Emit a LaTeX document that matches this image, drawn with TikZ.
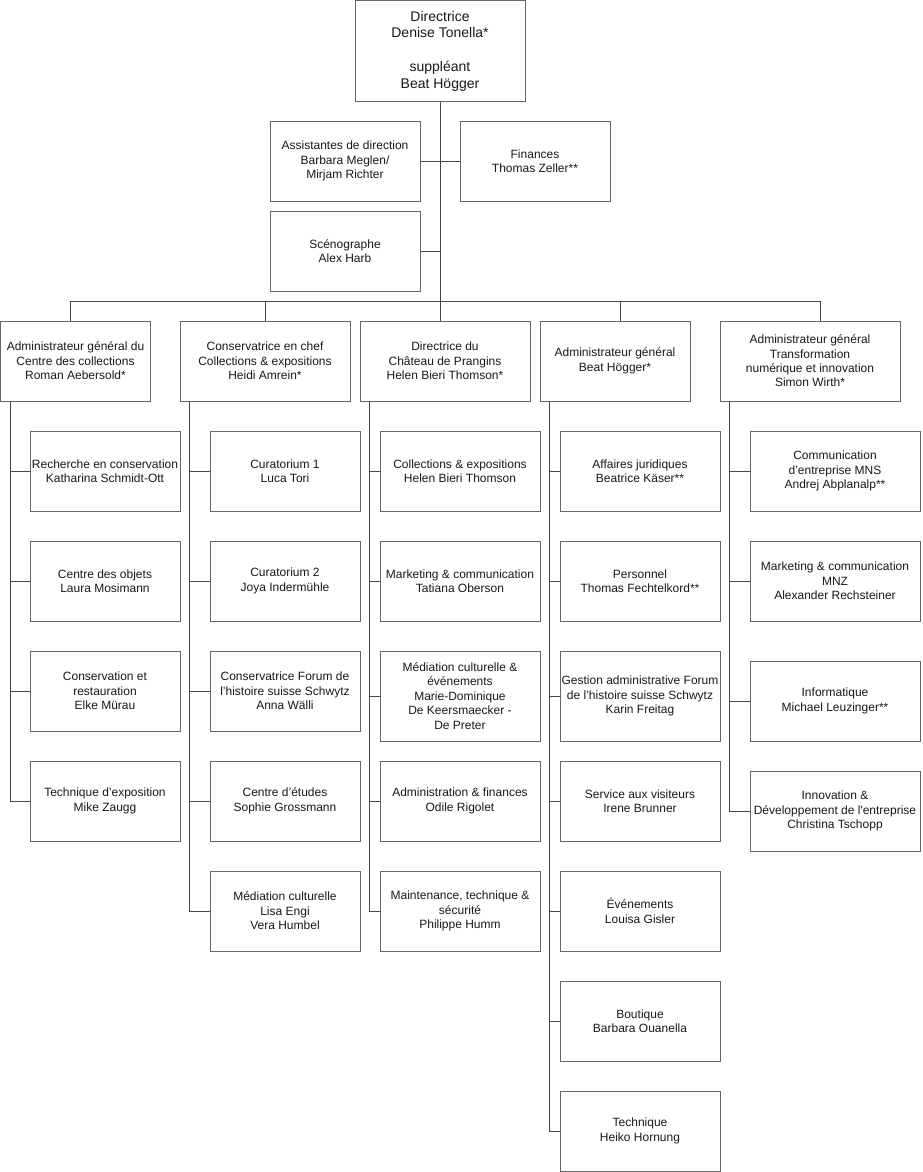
\documentclass[tikz,border=0pt]{standalone}
\usepackage{fontspec}
\setmainfont{Liberation Sans}
\begin{document}
\begin{tikzpicture}[x=1pt,y=-1pt,
  box/.style={draw=black!60, line width=1pt, fill=white, align=center, inner sep=0pt,
    font=\fontsize{12}{14.4}\selectfont, text=black!90},
  w150/.style={minimum width=150pt, minimum height=80pt},
  w160/.style={minimum width=160pt, minimum height=80pt},
  w170/.style={minimum width=170pt, minimum height=80pt},
  w180/.style={minimum width=180pt, minimum height=80pt},
  tall/.style={minimum height=90pt},
  conn/.style={draw=black!72, line width=1pt}]
\useasboundingbox (0,0) rectangle (922,1172);

% top
\node[box, minimum width=170pt, minimum height=100pt, font=\fontsize{14}{16.8}\selectfont] (top) at (440,51)
  {Directrice\\Denise Tonella*\\[16.8pt]suppléant\\Beat Högger};
\node[box,w150] (assist) at (345,161) {Assistantes de direction\\Barbara Meglen/\\Mirjam Richter};
\node[box,w150] (fin) at (535,161) {Finances\\Thomas Zeller**};
\node[box,w150] (sceno) at (345,251) {Scénographe\\Alex Harb};

% level 2
\node[box,w150] (A) at (75.5,361) {Administrateur général du\\Centre des collections\\Roman Aebersold*};
\node[box,w170] (B) at (265,361) {Conservatrice en chef\\Collections \& expositions\\Heidi Amrein*};
\node[box,w170] (C) at (445,361) {Directrice du\\Château de Prangins\\Helen Bieri Thomson*};
\node[box,w150] (D) at (615,361) {Administrateur général\\Beat Högger*};
\node[box,w180] (E) at (810,361) {Administrateur général\\Transformation\\numérique et innovation\\Simon Wirth*};

% column A
\node[box,w150] (A1) at (105,471) {Recherche en conservation\\Katharina Schmidt-Ott};
\node[box,w150] (A2) at (105,581) {Centre des objets\\Laura Mosimann};
\node[box,w150] (A3) at (105,691) {Conservation et\\restauration\\Elke Mürau};
\node[box,w150] (A4) at (105,801) {Technique d’exposition\\Mike Zaugg};

% column B
\node[box,w150] (B1) at (285,471) {Curatorium 1\\Luca Tori};
\node[box,w150] (B2) at (285,581) {Curatorium 2\\Joya Indermühle};
\node[box,w150] (B3) at (285,691) {Conservatrice Forum de\\l’histoire suisse Schwytz\\Anna Wälli};
\node[box,w150] (B4) at (285,801) {Centre d’études\\Sophie Grossmann};
\node[box,w150] (B5) at (285,911) {Médiation culturelle\\Lisa Engi\\Vera Humbel};

% column C
\node[box,w160] (C1) at (460,471) {Collections \& expositions\\Helen Bieri Thomson};
\node[box,w160] (C2) at (460,581) {Marketing \& communication\\Tatiana Oberson};
\node[box,w160,tall] (C3) at (460,696) {Médiation culturelle \&\\événements\\Marie-Dominique\\De Keersmaecker -\\De Preter};
\node[box,w160] (C4) at (460,801) {Administration \& finances\\Odile Rigolet};
\node[box,w160] (C5) at (460,911) {Maintenance, technique \&\\sécurité\\Philippe Humm};

% column D
\node[box,w160] (D1) at (640,471) {Affaires juridiques\\Beatrice Käser**};
\node[box,w160] (D2) at (640,581) {Personnel\\Thomas Fechtelkord**};
\node[box,w160,tall] (D3) at (640,696) {Gestion administrative Forum\\de l’histoire suisse Schwytz\\Karin Freitag};
\node[box,w160] (D4) at (640,801) {Service aux visiteurs\\Irene Brunner};
\node[box,w160] (D5) at (640,911) {Événements\\Louisa Gisler};
\node[box,w160] (D6) at (640,1021) {Boutique\\Barbara Ouanella};
\node[box,w160] (D7) at (640,1131) {Technique\\Heiko Hornung};

% column E
\node[box,w170] (E1) at (835,471) {Communication\\d’entreprise MNS\\Andrej Abplanalp**};
\node[box,w170] (E2) at (835,581) {Marketing \& communication\\MNZ\\Alexander Rechsteiner};
\node[box,w170] (E3) at (835,701) {Informatique\\Michael Leuzinger**};
\node[box,w170] (E4) at (835,811) {Innovation \&\\Développement de l\textquotesingle entreprise\\Christina Tschopp};

% junction points
\coordinate (busA) at (70,301);
\coordinate (busB) at (265,301);
\coordinate (busD) at (620,301);
\coordinate (busE) at (820,301);
\coordinate (colA) at ([xshift=10pt]A.south west);
\coordinate (colB) at ([xshift=10pt]B.south west);
\coordinate (colC) at ([xshift=10pt]C.south west);
\coordinate (colD) at ([xshift=10pt]D.south west);
\coordinate (colE) at ([xshift=10pt]E.south west);

% trunk
\draw[conn] (top.south) -- (top.south |- C.north);
\draw[conn] (assist.east) -- (assist.east -| top.south);
\draw[conn] (fin.west) -- (fin.west -| top.south);
\draw[conn] (sceno.east) -- (sceno.east -| top.south);
% bus
\draw[conn] (busA) -- (busE);
\draw[conn] (busA) -- (busA |- A.north);
\draw[conn] (busB) -- (busB |- B.north);
\draw[conn] (busD) -- (busD |- D.north);
\draw[conn] (busE) -- (busE |- E.north);
% columns
\foreach \c in {A1,A2,A3,A4} \draw[conn] (colA) |- (\c.west);
\foreach \c in {B1,B2,B3,B4,B5} \draw[conn] (colB) |- (\c.west);
\foreach \c in {C1,C2,C3,C4,C5} \draw[conn] (colC) |- (\c.west);
\foreach \c in {D1,D2,D3,D4,D5,D6,D7} \draw[conn] (colD) |- (\c.west);
\foreach \c in {E1,E2,E3,E4} \draw[conn] (colE) |- (\c.west);
\end{tikzpicture}
\end{document}
